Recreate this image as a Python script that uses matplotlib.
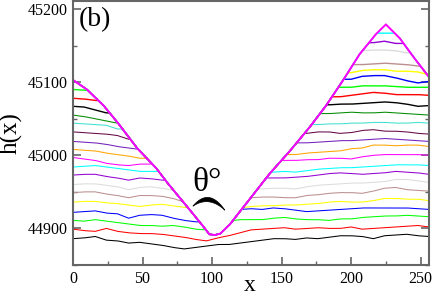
import numpy as np
import matplotlib
matplotlib.use('Agg')
import matplotlib.pyplot as plt
from matplotlib.ticker import MultipleLocator


# ---------------------------------------------------------------------------------------------------- #
# Values
# ---------------------------------------------------------------------------------------------------- #
# V-shaped front (top magenta curve)
v_x = [0, 10, 22, 32, 46, 60, 68, 82, 94, 98, 102, 106, 113, 122, 132, 141,
       156, 170, 182, 194, 206, 218, 225, 235, 245, 256]
v_y = [45103, 45090, 45068, 45045, 45010, 44982, 44962, 44930, 44902, 44892, 44891, 44893,
       44906, 44928, 44952, 44974, 45006, 45038, 45068, 45102, 45138, 45166, 45179, 45160,
       45134, 45107]

# rough profiles below the front, sampled every 8 in x (N = hidden under the front)
x_grid = list(range(0, 257, 8))
N = None
levels = [
    [44886, 44887, 44889, 44884, 44883, 44880, 44881, 44879, 44877, 44874, 44872, 44874, 44876,
     44878, 44878, 44880, 44882, 44884, 44886, 44886, 44885, 44887, 44886, 44888, 44890, 44890,
     44889, 44886, 44890, 44891, 44892, 44890, 44889],
    [44899, 44897, 44896, 44900, 44896, 44894, 44893, 44893, 44892, 44890, 44888, 44885, 44883,
     44887, 44890, 44894, 44898, 44899, 44900, 44901, 44899, 44900, 44901, 44900, 44900, 44902,
     44899, 44900, 44901, 44902, 44903, 44904, 44902],
    [44911, 44910, 44912, 44910, 44908, 44906, 44904, 44904, 44903, 44904, 44902, 44899, 44898,
     N, 44910, 44912, 44912, 44912, 44914, 44915, 44913, 44912, 44912, 44911, 44913, 44913,
     44915, 44916, 44917, 44917, 44918, 44917, 44916],
    [44922, 44923, 44924, 44921, 44920, 44914, 44918, 44919, 44918, 44914, 44911, 44909, N,
     N, N, 44926, 44927, 44926, 44928, 44927, 44925, 44923, 44924, 44925, 44926, 44927,
     44928, 44928, 44928, 44928, 44928, 44927, 44926],
    [44936, 44937, 44937, 44935, 44934, 44932, 44930, 44932, 44933, 44931, 44929, 44926, N,
     N, N, 44928, 44930, 44931, 44931, 44932, 44932, 44933, 44934, 44936, 44937, 44936,
     44936, 44938, 44941, 44941, 44940, 44940, 44938],
    [44949, 44950, 44950, 44947, 44945, 44942, 44945, 44945, 44944, 44941, 44936, N, N,
     N, N, N, 44942, 44943, 44943, 44942, 44942, 44945, 44946, 44948, 44949, 44949,
     44948, 44951, 44955, 44956, 44953, 44952, 44951],
    [44960, 44961, 44961, 44959, 44957, 44953, 44956, 44957, 44955, 44952, N, N, N,
     N, N, N, N, 44954, 44955, 44955, 44954, 44957, 44959, 44960, 44961, 44962,
     44962, 44963, 44964, 44967, 44967, 44965, 44963],
    [44973, 44974, 44974, 44971, 44969, 44966, 44969, 44968, 44966, N, N, N, N,
     N, N, N, N, N, 44969, 44969, 44970, 44971, 44973, 44975, 44976, 44975,
     44974, 44975, 44976, 44978, 44977, 44976, 44974],
    [44984, 44985, 44986, 44984, 44982, 44980, 44978, 44978, N, N, N, N, N,
     N, N, N, N, N, 44977, 44978, 44977, 44979, 44981, 44982, 44983, 44983,
     44984, 44985, 44986, 44987, 44987, 44987, 44986],
    [44997, 44995, 44993, 44989, 44987, 44986, 44988, N, N, N, N, N, N,
     N, N, N, N, N, N, 44993, 44993, 44994, 44994, 44996, 44996, 44995,
     44998, 45000, 45001, 45001, 45001, 45001, 45000],
    [45008, 45007, 45006, 45003, 45001, 44999, 44996, N, N, N, N, N, N,
     N, N, N, N, N, N, N, 45001, 45003, 45004, 45005, 45006, 45009,
     45010, 45014, 45014, 45013, 45014, 45014, 45012],
    [45019, 45018, 45017, 45015, 45012, 45010, 45008, N, N, N, N, N, N,
     N, N, N, N, N, N, N, N, 45017, 45018, 45019, 45020, 45020,
     45021, 45022, 45023, 45022, 45021, 45020, 45019],
    [45032, 45031, 45030, 45029, 45027, 45022, N, N, N, N, N, N, N,
     N, N, N, N, N, N, N, N, 45030, 45032, 45032, 45030, 45031,
     45034, 45035, 45033, 45033, 45032, 45030, 45029],
    [45044, 45043, 45042, 45041, 45036, N, N, N, N, N, N, N, N,
     N, N, N, N, N, N, N, N, N, 45042, 45043, 45043, 45044,
     45044, 45045, 45045, 45044, 45044, 45045, 45044],
    [45055, 45053, 45050, 45047, 45044, N, N, N, N, N, N, N, N,
     N, N, N, N, N, N, N, N, N, N, 45057, 45058, 45059,
     45058, 45058, 45059, 45058, 45057, 45056, 45055],
    [45067, 45066, 45062, 45058, N, N, N, N, N, N, N, N, N,
     N, N, N, N, N, N, N, N, N, N, 45069, 45070, 45070,
     45071, 45072, 45073, 45072, 45070, 45067, 45068],
    [45078, 45077, 45075, N, N, N, N, N, N, N, N, N, N,
     N, N, N, N, N, N, N, N, N, N, N, 45080, 45082,
     45084, 45086, 45085, 45083, 45083, 45083, 45082],
    [45090, 45089, N, N, N, N, N, N, N, N, N, N, N,
     N, N, N, N, N, N, N, N, N, N, N, N, 45093,
     45095, 45095, 45095, 45094, 45093, 45093, 45093],
    [45101, N, N, N, N, N, N, N, N, N, N, N, N,
     N, N, N, N, N, N, N, N, N, N, N, N, 45104,
     45108, 45109, 45109, 45106, 45102, 45099, 45101],
    [N, N, N, N, N, N, N, N, N, N, N, N, N,
     N, N, N, N, N, N, N, N, N, N, N, N, 45113,
     45116, 45117, 45117, 45115, 45115, 45114, 45110],
    [N, N, N, N, N, N, N, N, N, N, N, N, N,
     N, N, N, N, N, N, N, N, N, N, N, N, N,
     45124, 45125, 45126, 45125, 45124, 45122, N],
    [N, N, N, N, N, N, N, N, N, N, N, N, N,
     N, N, N, N, N, N, N, N, N, N, N, N, N,
     45143, 45144, 45144, 45143, 45140, N, N],
    [N, N, N, N, N, N, N, N, N, N, N, N, N,
     N, N, N, N, N, N, N, N, N, N, N, N, N,
     N, 45154, 45156, 45153, N, N, N],
    [N, N, N, N, N, N, N, N, N, N, N, N, N,
     N, N, N, N, N, N, N, N, N, N, N, N, N,
     N, N, 45167, N, N, N, N],
]

# grace default colour cycle
palette = ['#000000', '#ff0000', '#00ff00', '#0000ff', '#ffff00', '#bc8f8f', '#dcdcdc',
           '#9400d3', '#00ffff', '#ff00ff', '#ffa500', '#7220bc', '#670748', '#40e0d0',
           '#008b00']


# ---------------------------------------------------------------------------------------------------- #
# Each profile is capped by the front (lower envelope of the two)
# ---------------------------------------------------------------------------------------------------- #
xf = np.arange(0, 256.25, 0.5)
v_fine = np.interp(xf, v_x, v_y)
xg = np.array(x_grid, dtype=float)


def capped(row):
    vals = np.array([np.nan if r is None else r for r in row], dtype=float)
    idx = np.flatnonzero(~np.isnan(vals))
    runs = np.split(idx, np.flatnonzero(np.diff(idx) > 1) + 1)
    flat = np.full_like(xf, np.inf)
    for run in runs:
        seg = np.interp(xf, xg[run], vals[run])
        inside = (xf >= xg[run[0]] - 12) & (xf <= xg[run[-1]] + 12)
        flat[inside] = np.minimum(flat[inside], seg[inside])
    return np.minimum(flat, v_fine)


plt.rcParams['font.family'] = ['Liberation Serif', 'DejaVu Serif']

fig = plt.figure(figsize=(4.36, 2.98), dpi=100)
ax = fig.add_axes([73 / 436, 33 / 298, 356 / 436, 264 / 298])

for i, row in enumerate(levels):
    lw = 0.75 if i < 15 else 1.0
    ax.plot(xf, capped(row), color=palette[i % len(palette)], lw=lw)
ax.plot(v_x, v_y, color='#ff00ff', lw=1.4)

ax.set_xlim(0, 256)
ax.set_ylim(44850, 45211)
ax.set_xticks([0, 50, 100, 150, 200, 250])
ax.set_yticks([44900, 45000, 45100, 45200])
ax.xaxis.set_minor_locator(MultipleLocator(25))
ax.yaxis.set_minor_locator(MultipleLocator(50))
ax.tick_params(which='both', direction='in', top=False, right=True, color='#666666',
               labelsize=11.5, pad=4)
ax.tick_params(which='major', length=6, width=1.2)
ax.tick_params(which='minor', length=3, width=1.0)
for sp in ax.spines.values():
    sp.set_color('#666666')
    sp.set_linewidth(1.5)

ax.set_xlabel('x', fontsize=17)
ax.xaxis.set_label_coords(0.497, -0.036)
ax.set_ylabel('h(x)', fontsize=18)
ax.yaxis.set_label_coords(-0.142, 0.5)

ax.text(0.017, 0.978, '(b)', transform=ax.transAxes, ha='left', va='top', fontsize=20)
ax.text(96.5, 44963, '\u03b8\u00b0', ha='center', va='center', fontsize=24)


# angle mark above the vertex (drawn in picture pixels, then mapped to data)
def px2data(px, py):
    return (px - 73) * 0.7184, 45200 - (py - 9) * 1.3636


t = np.linspace(-1, 1, 50)
arc_px = np.concatenate([209 + 16 * t, (209 + 16 * t)[::-1]])
arc_py = np.concatenate([198 + 10.7 * t ** 2 + 2 * t, (202.3 + 6.4 * t ** 2 + 2 * t)[::-1]])
ax_, ay_ = px2data(arc_px, arc_py)
ax.fill(ax_, ay_, color='black', lw=0.5)

plt.savefig('out.png', dpi=100)
plt.close()
